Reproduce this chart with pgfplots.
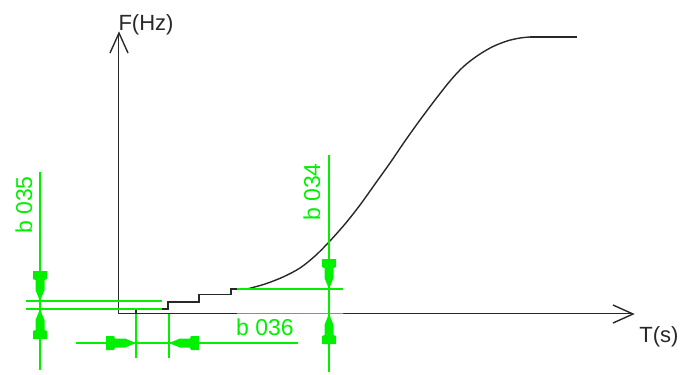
\documentclass[border=0pt]{standalone}
\usepackage{pgfplots}
\pgfplotsset{compat=1.18}
\usepackage{fontspec}
\setmainfont{Liberation Sans}
\definecolor{dimgreen}{RGB}{0,240,0}
\definecolor{linegray}{RGB}{40,40,40}
\begin{document}
\begin{tikzpicture}
\begin{axis}[
  width=342.5pt, height=187pt, scale only axis,
  xmin=0, xmax=685, ymin=0, ymax=374, y dir=reverse,
  hide axis, clip=false,
]
\path (axis cs:0,0) rectangle (axis cs:685,374);
% axes
\addplot[linegray, line width=0.8pt] coordinates {(118.5,313.5) (118.5,33)};
\addplot[linegray, line width=0.8pt] coordinates {(118.5,313.5) (633,313.5)};
\addplot[linegray, line width=0.7pt] coordinates {(110,53) (119,33) (128,53)};
\addplot[linegray, line width=0.7pt] coordinates {(613,305) (633,314) (613,323)};
% curve
\addplot[linegray, line width=0.7pt] coordinates {
 (118.5,313.5) (136,313.5) (136,309) (168,309) (168,302) (199,302) (199,294.5)
 (231,294.5) (231,289) (247,289)
};
\addplot[linegray, line width=0.7pt, smooth, tension=0.5] coordinates {
 (247,289) (265,284) (283,277) (300,268) (315,256) (329,242) (345,224)
 (360,205) (375,184) (390,163) (405,141) (420,120) (435,100) (450,81)
 (463,67) (477,56) (492,47) (507,41) (520,38) (530,37)
};
\addplot[linegray, line width=0.7pt] coordinates {(530,37) (577,37)};
% green dimension lines
\addplot[dimgreen, line width=0.6pt] coordinates {(40,172) (40,370)};
\addplot[dimgreen, line width=0.6pt] coordinates {(26,301) (162,301)};
\addplot[dimgreen, line width=0.6pt] coordinates {(26,309) (162,309)};
\addplot[dimgreen, line width=0.6pt] coordinates {(329,155) (329,372)};
\addplot[dimgreen, line width=0.6pt] coordinates {(237,289) (343,289)};
\addplot[dimgreen, line width=0.6pt] coordinates {(237,313.5) (343,313.5)};
\addplot[dimgreen, line width=0.6pt] coordinates {(136,313.5) (136,358)};
\addplot[dimgreen, line width=0.6pt] coordinates {(169,313.5) (169,358)};
\addplot[dimgreen, line width=0.6pt] coordinates {(76,343) (298,343)};
% arrowheads (down)
\addplot[fill=dimgreen, draw=none] coordinates {
 (33,271) (47,271) (47,279) (44.5,280) (44.5,290) (40,301) (35.5,290) (35.5,280) (33,279)};
\addplot[fill=dimgreen, draw=none] coordinates {
 (322,259) (336,259) (336,267) (333.5,268) (333.5,278) (329,289) (324.5,278) (324.5,268) (322,267)};
% arrowheads (up)
\addplot[fill=dimgreen, draw=none] coordinates {
 (33,339) (47,339) (47,331) (44.5,330) (44.5,320) (40,309) (35.5,320) (35.5,330) (33,331)};
\addplot[fill=dimgreen, draw=none] coordinates {
 (322,344) (336,344) (336,336) (333.5,335) (333.5,325) (329,313.5) (324.5,325) (324.5,335) (322,336)};
% arrowheads (right / left)
\addplot[fill=dimgreen, draw=none] coordinates {
 (106,336) (106,350) (114,350) (115,347.5) (125,347.5) (136,343) (125,338.5) (115,338.5) (114,336)};
\addplot[fill=dimgreen, draw=none] coordinates {
 (199,336) (199,350) (191,350) (190,347.5) (180,347.5) (169,343) (180,338.5) (190,338.5) (191,336)};
% labels
\node[inner sep=0, font=\fontsize{11}{13}\selectfont, text=linegray] at (axis cs:146,25) {F(Hz)};
\node[inner sep=0, font=\fontsize{11}{13}\selectfont, text=linegray] at (axis cs:659,337) {T(s)};
\node[inner sep=0, rotate=90, font=\fontsize{11.5}{13}\selectfont, text=dimgreen] at (axis cs:24,205) {b 035};
\node[inner sep=0, rotate=90, font=\fontsize{11.5}{13}\selectfont, text=dimgreen] at (axis cs:312,192) {b 034};
\node[inner sep=0, font=\fontsize{11.5}{13}\selectfont, text=dimgreen] at (axis cs:265,327) {b 036};
\end{axis}
\end{tikzpicture}
\end{document}
